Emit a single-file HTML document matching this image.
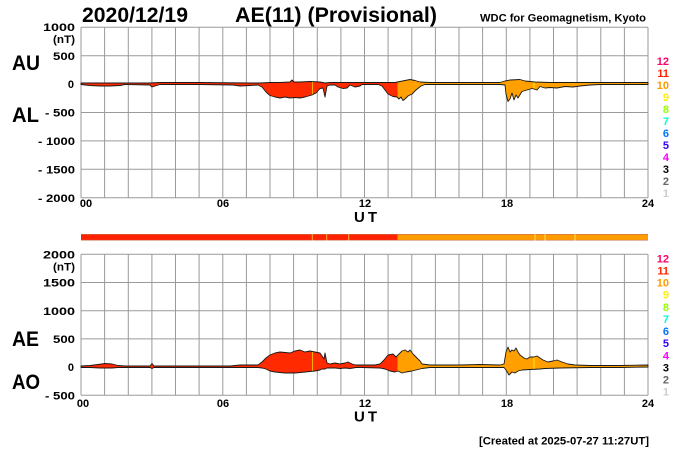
<!DOCTYPE html>
<html><head><meta charset="utf-8"><style>
html,body{margin:0;padding:0;background:#fff;}
svg{display:block;font-family:"Liberation Sans",Arial,sans-serif;font-weight:bold;}
</style></head><body>
<svg width="700" height="450" viewBox="0 0 700 450" xmlns="http://www.w3.org/2000/svg">
<defs>
<clipPath id="cr"><rect x="0" y="0" width="397.5" height="450"/></clipPath>
<clipPath id="co"><rect x="397.5" y="0" width="400" height="450"/></clipPath>
</defs>
<rect width="700" height="450" fill="#fff"/>
<!-- titles -->
<text x="82" y="22" font-size="21" textLength="106" lengthAdjust="spacingAndGlyphs">2020/12/19</text>
<text x="235" y="22" font-size="21" textLength="202" lengthAdjust="spacingAndGlyphs">AE(11) (Provisional)</text>
<text x="480" y="21.3" font-size="11" textLength="166" lengthAdjust="spacingAndGlyphs">WDC for Geomagnetism, Kyoto</text>

<!-- grid top -->
<g stroke="#9a9a9a" stroke-width="1" fill="none">
<path d="M81 27.3V197.7M104.6 27.3V197.7M128.3 27.3V197.7M151.9 27.3V197.7M175.5 27.3V197.7M199.1 27.3V197.7M222.8 27.3V197.7M246.4 27.3V197.7M270 27.3V197.7M293.6 27.3V197.7M317.3 27.3V197.7M340.9 27.3V197.7M364.5 27.3V197.7M388.1 27.3V197.7M411.8 27.3V197.7M435.4 27.3V197.7M459 27.3V197.7M482.6 27.3V197.7M506.3 27.3V197.7M529.9 27.3V197.7M553.5 27.3V197.7M577.1 27.3V197.7M600.8 27.3V197.7M624.4 27.3V197.7M648 27.3V197.7"/>
<path d="M81 27.3H648M81 55.7H648M81 84.1H648M81 112.5H648M81 140.9H648M81 169.3H648M81 197.7H648"/>
</g>
<!-- grid bottom -->
<g stroke="#9a9a9a" stroke-width="1" fill="none">
<path d="M81 254.3V395.3M104.6 254.3V395.3M128.3 254.3V395.3M151.9 254.3V395.3M175.5 254.3V395.3M199.1 254.3V395.3M222.8 254.3V395.3M246.4 254.3V395.3M270 254.3V395.3M293.6 254.3V395.3M317.3 254.3V395.3M340.9 254.3V395.3M364.5 254.3V395.3M388.1 254.3V395.3M411.8 254.3V395.3M435.4 254.3V395.3M459 254.3V395.3M482.6 254.3V395.3M506.3 254.3V395.3M529.9 254.3V395.3M553.5 254.3V395.3M577.1 254.3V395.3M600.8 254.3V395.3M624.4 254.3V395.3M648 254.3V395.3"/>
<path d="M81 254.3H648M81 282.5H648M81 310.7H648M81 338.9H648M81 367.1H648M81 395.3H648"/>
</g>

<!-- top data -->
<g id="topdata">
<polygon id="tp" points="81,83 100,83 150,83 160,82.5 200,82.5 250,83 260,83 270,82.5 280,82.5 290,82 292,80 294,82 300,82 310,81.5 320,82 325,83 330,82.5 340,82.5 360,82.5 380,82.5 395,82.5 400,81.5 405,80.5 410,79.5 415,80.5 420,82 430,82.5 460,82.5 500,82.5 505,81 510,80 520,79.5 525,81 535,82 550,82.5 600,82.5 648,82.5 648,84.5 620,84.5 600,84.5 590,85 580,86 573,87 565,86.5 557,88 550,87.5 545,88 540,86.5 537,90 532,88.5 527,90 522,91.5 518,98 516,95 514,100 512,93 510,99 508,101.5 506,94 505,85 500,84.5 470,84.5 440,84.5 425,84.5 421,86 416,90 412,94 408,96 405,99 403,100.5 401,97 399,99 397,97 393,96.5 388,94 385,90 382,86 378,84.5 362,84.5 360,86 355,87 350,85 347,88 343,88.5 338,87 335,85 330,85 327,86 325,97 323,88 320,88.5 316,93 312,95 305,97 300,98 295,97.5 290,98 285,97 280,98 275,97 270,95.5 266,92 262,87 258,85 250,85.5 240,86 233,85 200,84.5 160,84.5 155,86 152,87 150,85 125,84.5 120,85.5 110,86 100,86 90,85.5 85,85 81,84.5" fill="#ff2a00" clip-path="url(#cr)"/>
</g>
<polygon points="81,83 100,83 150,83 160,82.5 200,82.5 250,83 260,83 270,82.5 280,82.5 290,82 292,80 294,82 300,82 310,81.5 320,82 325,83 330,82.5 340,82.5 360,82.5 380,82.5 395,82.5 400,81.5 405,80.5 410,79.5 415,80.5 420,82 430,82.5 460,82.5 500,82.5 505,81 510,80 520,79.5 525,81 535,82 550,82.5 600,82.5 648,82.5 648,84.5 620,84.5 600,84.5 590,85 580,86 573,87 565,86.5 557,88 550,87.5 545,88 540,86.5 537,90 532,88.5 527,90 522,91.5 518,98 516,95 514,100 512,93 510,99 508,101.5 506,94 505,85 500,84.5 470,84.5 440,84.5 425,84.5 421,86 416,90 412,94 408,96 405,99 403,100.5 401,97 399,99 397,97 393,96.5 388,94 385,90 382,86 378,84.5 362,84.5 360,86 355,87 350,85 347,88 343,88.5 338,87 335,85 330,85 327,86 325,97 323,88 320,88.5 316,93 312,95 305,97 300,98 295,97.5 290,98 285,97 280,98 275,97 270,95.5 266,92 262,87 258,85 250,85.5 240,86 233,85 200,84.5 160,84.5 155,86 152,87 150,85 125,84.5 120,85.5 110,86 100,86 90,85.5 85,85 81,84.5" fill="#ffa000" clip-path="url(#co)"/>
<line x1="312.5" y1="82" x2="312.5" y2="95" stroke="#ffb000" stroke-width="1"/>
<line x1="534" y1="82" x2="534" y2="88" stroke="#ffee00" stroke-width="1"/>
<polygon points="81,83 100,83 150,83 160,82.5 200,82.5 250,83 260,83 270,82.5 280,82.5 290,82 292,80 294,82 300,82 310,81.5 320,82 325,83 330,82.5 340,82.5 360,82.5 380,82.5 395,82.5 400,81.5 405,80.5 410,79.5 415,80.5 420,82 430,82.5 460,82.5 500,82.5 505,81 510,80 520,79.5 525,81 535,82 550,82.5 600,82.5 648,82.5 648,84.5 620,84.5 600,84.5 590,85 580,86 573,87 565,86.5 557,88 550,87.5 545,88 540,86.5 537,90 532,88.5 527,90 522,91.5 518,98 516,95 514,100 512,93 510,99 508,101.5 506,94 505,85 500,84.5 470,84.5 440,84.5 425,84.5 421,86 416,90 412,94 408,96 405,99 403,100.5 401,97 399,99 397,97 393,96.5 388,94 385,90 382,86 378,84.5 362,84.5 360,86 355,87 350,85 347,88 343,88.5 338,87 335,85 330,85 327,86 325,97 323,88 320,88.5 316,93 312,95 305,97 300,98 295,97.5 290,98 285,97 280,98 275,97 270,95.5 266,92 262,87 258,85 250,85.5 240,86 233,85 200,84.5 160,84.5 155,86 152,87 150,85 125,84.5 120,85.5 110,86 100,86 90,85.5 85,85 81,84.5" fill="none" stroke="#1a1a1a" stroke-width="0.9" stroke-linejoin="round"/>

<!-- bottom data -->
<polygon points="81,366 90,365.5 98,364.5 105,363.5 112,364 118,365.5 125,366 150,366 152,363.5 154,366 230,366 240,365 258,365 262,362 266,358 270,355 275,353 280,352 290,353 295,351 300,350 305,352 310,351 315,352 320,353 322,356 324,359 325,353 327,363 330,364 335,363 340,364 345,363 348,362 352,364 356,365 362,365 375,365 380,364 384,360 388,355 393,354 396,357 398,355 402,351 405,350 408,352 410,350 413,354 417,358 420,361 422,364 430,365 460,365 480,364.5 500,365 504,364 506,352 508,347 510,352 512,350 514,351 516,348 518,352 520,355 524,358 527,359 530,357 534,357 537,356 540,358 543,360 548,362 553,361 557,360 562,362 568,364 575,365 590,365.5 620,365.5 648,365 648,367 620,367.5 590,367.5 560,368 545,368.5 540,369 530,369.5 522,370 518,371 515,373 512,372 509,375 506,370 504,367.5 480,367.5 430,367.5 422,368.5 418,369.5 412,371 406,372 402,373 398,371 395,372 390,371 385,369 380,368 362,367.5 356,367.5 350,368.5 345,368 340,368.5 335,368 330,368 327,368 325,369 322,369 320,370 315,371 305,372 295,373 285,373 275,372 270,371 266,369 262,368 258,367.5 240,367.5 154,367.5 152,368.5 150,367.5 125,367.5 118,367.5 112,368 100,368 90,367.5 81,367.5" fill="#ff2a00" clip-path="url(#cr)"/>
<polygon points="81,366 90,365.5 98,364.5 105,363.5 112,364 118,365.5 125,366 150,366 152,363.5 154,366 230,366 240,365 258,365 262,362 266,358 270,355 275,353 280,352 290,353 295,351 300,350 305,352 310,351 315,352 320,353 322,356 324,359 325,353 327,363 330,364 335,363 340,364 345,363 348,362 352,364 356,365 362,365 375,365 380,364 384,360 388,355 393,354 396,357 398,355 402,351 405,350 408,352 410,350 413,354 417,358 420,361 422,364 430,365 460,365 480,364.5 500,365 504,364 506,352 508,347 510,352 512,350 514,351 516,348 518,352 520,355 524,358 527,359 530,357 534,357 537,356 540,358 543,360 548,362 553,361 557,360 562,362 568,364 575,365 590,365.5 620,365.5 648,365 648,367 620,367.5 590,367.5 560,368 545,368.5 540,369 530,369.5 522,370 518,371 515,373 512,372 509,375 506,370 504,367.5 480,367.5 430,367.5 422,368.5 418,369.5 412,371 406,372 402,373 398,371 395,372 390,371 385,369 380,368 362,367.5 356,367.5 350,368.5 345,368 340,368.5 335,368 330,368 327,368 325,369 322,369 320,370 315,371 305,372 295,373 285,373 275,372 270,371 266,369 262,368 258,367.5 240,367.5 154,367.5 152,368.5 150,367.5 125,367.5 118,367.5 112,368 100,368 90,367.5 81,367.5" fill="#ffa000" clip-path="url(#co)"/>
<line x1="312.5" y1="351" x2="312.5" y2="371.5" stroke="#ffb000" stroke-width="1"/>
<line x1="534" y1="357" x2="534" y2="369.5" stroke="#ffee00" stroke-width="1"/>
<polygon points="81,366 90,365.5 98,364.5 105,363.5 112,364 118,365.5 125,366 150,366 152,363.5 154,366 230,366 240,365 258,365 262,362 266,358 270,355 275,353 280,352 290,353 295,351 300,350 305,352 310,351 315,352 320,353 322,356 324,359 325,353 327,363 330,364 335,363 340,364 345,363 348,362 352,364 356,365 362,365 375,365 380,364 384,360 388,355 393,354 396,357 398,355 402,351 405,350 408,352 410,350 413,354 417,358 420,361 422,364 430,365 460,365 480,364.5 500,365 504,364 506,352 508,347 510,352 512,350 514,351 516,348 518,352 520,355 524,358 527,359 530,357 534,357 537,356 540,358 543,360 548,362 553,361 557,360 562,362 568,364 575,365 590,365.5 620,365.5 648,365 648,367 620,367.5 590,367.5 560,368 545,368.5 540,369 530,369.5 522,370 518,371 515,373 512,372 509,375 506,370 504,367.5 480,367.5 430,367.5 422,368.5 418,369.5 412,371 406,372 402,373 398,371 395,372 390,371 385,369 380,368 362,367.5 356,367.5 350,368.5 345,368 340,368.5 335,368 330,368 327,368 325,369 322,369 320,370 315,371 305,372 295,373 285,373 275,372 270,371 266,369 262,368 258,367.5 240,367.5 154,367.5 152,368.5 150,367.5 125,367.5 118,367.5 112,368 100,368 90,367.5 81,367.5" fill="none" stroke="#1a1a1a" stroke-width="0.9" stroke-linejoin="round"/>

<!-- colour bar -->
<rect x="81" y="234" width="316.7" height="6.5" fill="#ff2200"/>
<rect x="397.7" y="234" width="250.3" height="6.5" fill="#ff9c00"/>
<line x1="81" y1="234.3" x2="648" y2="234.3" stroke="#c8704a" stroke-width="0.6"/>
<line x1="81" y1="240.2" x2="648" y2="240.2" stroke="#c8704a" stroke-width="0.6"/>
<g stroke="#ffb030" stroke-width="1">
<line x1="312.3" y1="234" x2="312.3" y2="240.5"/>
<line x1="326.7" y1="234" x2="326.7" y2="240.5"/>
<line x1="348.7" y1="234" x2="348.7" y2="240.5"/>
</g>
<g stroke="#ffe060" stroke-width="1">
<line x1="535" y1="234" x2="535" y2="240.5"/>
<line x1="545" y1="234" x2="545" y2="240.5"/>
<line x1="575" y1="234" x2="575" y2="240.5"/>
</g>

<!-- top y labels -->
<g font-size="11" text-anchor="end" fill="#000">
<text x="75" y="31" textLength="32" lengthAdjust="spacingAndGlyphs">1000</text>
<text x="75" y="43" textLength="22" lengthAdjust="spacingAndGlyphs">(nT)</text>
<text x="75" y="60" textLength="22" lengthAdjust="spacingAndGlyphs">500</text>
<text x="74" y="88">0</text>
<text x="75" y="116.5" textLength="30" lengthAdjust="spacingAndGlyphs">- 500</text>
<text x="75" y="145" textLength="37" lengthAdjust="spacingAndGlyphs">- 1000</text>
<text x="75" y="173.5" textLength="37" lengthAdjust="spacingAndGlyphs">- 1500</text>
<text x="75" y="202" textLength="37" lengthAdjust="spacingAndGlyphs">- 2000</text>
</g>
<!-- bottom y labels -->
<g font-size="11" text-anchor="end" fill="#000">
<text x="75" y="258.5" textLength="32" lengthAdjust="spacingAndGlyphs">2000</text>
<text x="75" y="270.5" textLength="22" lengthAdjust="spacingAndGlyphs">(nT)</text>
<text x="75" y="286.5" textLength="32" lengthAdjust="spacingAndGlyphs">1500</text>
<text x="75" y="315" textLength="32" lengthAdjust="spacingAndGlyphs">1000</text>
<text x="75" y="343" textLength="22" lengthAdjust="spacingAndGlyphs">500</text>
<text x="74" y="371">0</text>
<text x="75" y="399.5" textLength="30" lengthAdjust="spacingAndGlyphs">- 500</text>
</g>

<!-- big labels -->
<g font-size="21" fill="#000">
<text x="12" y="70" textLength="28" lengthAdjust="spacingAndGlyphs">AU</text>
<text x="12" y="122" textLength="27" lengthAdjust="spacingAndGlyphs">AL</text>
<text x="12" y="346" textLength="27" lengthAdjust="spacingAndGlyphs">AE</text>
<text x="12" y="389" textLength="28" lengthAdjust="spacingAndGlyphs">AO</text>
</g>

<!-- x tick labels -->
<g font-size="11" text-anchor="middle" fill="#000">
<text x="86" y="207">00</text>
<text x="223" y="207">06</text>
<text x="365" y="207">12</text>
<text x="507" y="207">18</text>
<text x="648" y="207">24</text>
<text x="83" y="407">00</text>
<text x="223" y="407">06</text>
<text x="365" y="407">12</text>
<text x="507" y="407">18</text>
<text x="648" y="407">24</text>
</g>
<text x="354" y="222" font-size="15" textLength="23" lengthAdjust="spacing">U T</text>
<text x="354" y="421.7" font-size="15" textLength="23" lengthAdjust="spacing">U T</text>

<!-- legends -->
<g font-size="11" text-anchor="end">
<text x="669" y="65" fill="#ff0066">12</text>
<text x="669" y="77" fill="#ff2200">11</text>
<text x="669" y="89" fill="#ff9900">10</text>
<text x="669" y="101" fill="#ffee00">9</text>
<text x="669" y="113" fill="#99ff00">8</text>
<text x="669" y="125" fill="#00ffcc">7</text>
<text x="669" y="137" fill="#0077ff">6</text>
<text x="669" y="149" fill="#3300ff">5</text>
<text x="669" y="161" fill="#ff00ff">4</text>
<text x="669" y="173" fill="#000000">3</text>
<text x="669" y="185" fill="#666666">2</text>
<text x="669" y="197" fill="#cccccc">1</text>
</g>
<g font-size="11" text-anchor="end">
<text x="669" y="262.3" fill="#ff0066">12</text>
<text x="669" y="274.4" fill="#ff2200">11</text>
<text x="669" y="286.6" fill="#ff9900">10</text>
<text x="669" y="298.7" fill="#ffee00">9</text>
<text x="669" y="310.8" fill="#99ff00">8</text>
<text x="669" y="322.9" fill="#00ffcc">7</text>
<text x="669" y="335.1" fill="#0077ff">6</text>
<text x="669" y="347.2" fill="#3300ff">5</text>
<text x="669" y="359.3" fill="#ff00ff">4</text>
<text x="669" y="371.4" fill="#000000">3</text>
<text x="669" y="383.6" fill="#666666">2</text>
<text x="669" y="395.7" fill="#cccccc">1</text>
</g>

<text x="479" y="444.5" font-size="11" textLength="170" lengthAdjust="spacingAndGlyphs">[Created at 2025-07-27 11:27UT]</text>
</svg>
</body></html>
